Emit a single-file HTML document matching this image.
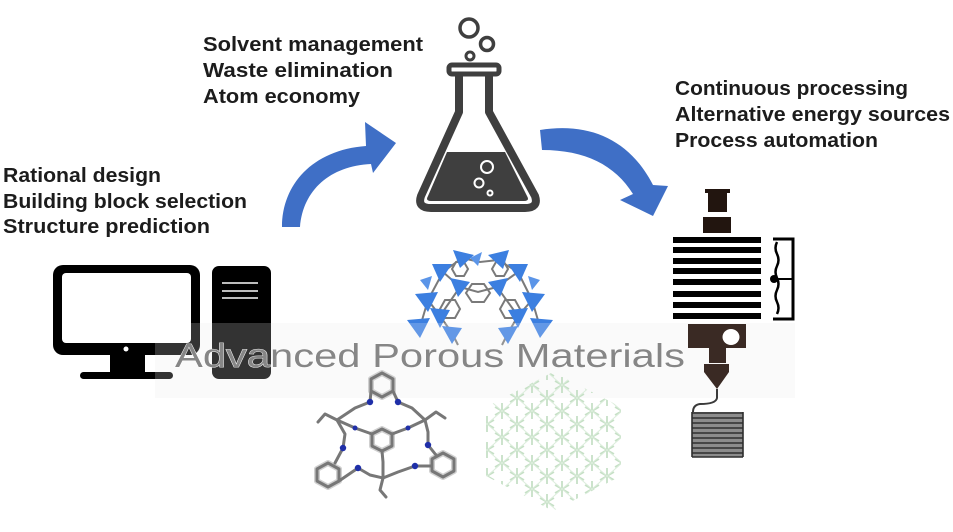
<!DOCTYPE html>
<html>
<head>
<meta charset="utf-8">
<style>
html,body{margin:0;padding:0;background:#fff;}
svg{display:block;}
.lbl{font-family:"Liberation Sans",sans-serif;font-weight:bold;font-size:20px;fill:#1c1c1c;}
</style>
</head>
<body>
<svg width="953" height="532" viewBox="0 0 953 532" xmlns="http://www.w3.org/2000/svg">
<defs>
  <pattern id="star" x="487" y="372" width="30" height="26" patternUnits="userSpaceOnUse">
    <g stroke="#c6e0c6" stroke-width="1.8" fill="none">
      <path d="M0,-8 V8 M-7,-4 L7,4 M-7,4 L7,-4"/>
      <path d="M30,-8 V8 M23,-4 L37,4 M23,4 L37,-4"/>
      <path d="M0,18 V34 M-7,22 L7,30 M-7,30 L7,22"/>
      <path d="M30,18 V34 M23,22 L37,30 M23,30 L37,22"/>
      <path d="M15,5 V21 M8,9 L22,17 M8,17 L22,9"/>
      <path d="M0,0 L15,13 L30,0 M15,13 L0,26 M15,13 L30,26" stroke="#dbeddb" stroke-width="1"/>
    </g>
  </pattern>
  <clipPath id="hex">
    <polygon points="553,372 621,407 621,476 553,511 486,476 486,407"/>
  </clipPath>
</defs>

<rect width="953" height="532" fill="#fff"/>

<!-- light band behind title -->
<rect x="155" y="323" width="640" height="75" fill="#f9f9f9"/>

<!-- Labels -->
<text class="lbl" x="203" y="51" textLength="220" lengthAdjust="spacingAndGlyphs">Solvent management</text>
<text class="lbl" x="203" y="77" textLength="190" lengthAdjust="spacingAndGlyphs">Waste elimination</text>
<text class="lbl" x="203" y="103" textLength="157" lengthAdjust="spacingAndGlyphs">Atom economy</text>

<text class="lbl" x="3" y="182" textLength="158" lengthAdjust="spacingAndGlyphs">Rational design</text>
<text class="lbl" x="3" y="208" textLength="244" lengthAdjust="spacingAndGlyphs">Building block selection</text>
<text class="lbl" x="3" y="233" textLength="207" lengthAdjust="spacingAndGlyphs">Structure prediction</text>

<text class="lbl" x="675" y="95" textLength="233" lengthAdjust="spacingAndGlyphs">Continuous processing</text>
<text class="lbl" x="675" y="121" textLength="275" lengthAdjust="spacingAndGlyphs">Alternative energy sources</text>
<text class="lbl" x="675" y="147" textLength="203" lengthAdjust="spacingAndGlyphs">Process automation</text>

<!-- Arrows -->
<path d="M282,227 C282,185 312,150 366,146 L365,122 L396,143 L373,173 L371,164 C330,166 303,190 300,227 Z" fill="#3f6fc6"/>
<path d="M540,130 C590,122 630,140 653,185 L668,186 L653,216 L620,200 L633,194 C615,165 585,150 542,150 Z" fill="#3f6fc6"/>

<!-- Flask -->
<g fill="none" stroke="#3f3f3f">
  <circle cx="469" cy="28" r="9" stroke-width="3.5"/>
  <circle cx="487" cy="44" r="6.5" stroke-width="3.5"/>
  <circle cx="470" cy="56" r="4" stroke-width="3"/>
  <rect x="449" y="65" width="50" height="9" rx="3" stroke-width="5" fill="#fff"/>
  <path d="M459,75 L459,112 L421,196 Q417,208 431,208 L525,208 Q539,208 535,196 L489,112 L489,75" stroke-width="8" stroke-linejoin="round"/>
</g>
<path d="M447,152 L505,152 L527,196 Q530,201 524,201 L431,201 Q425,201 428,196 Z" fill="#3f3f3f"/>
<g fill="none" stroke="#fff" stroke-width="2">
  <circle cx="487" cy="167" r="6"/>
  <circle cx="479" cy="183" r="4.5"/>
  <circle cx="490" cy="193" r="2.5"/>
</g>

<!-- Computer -->
<rect x="53" y="265" width="147" height="90" rx="10" fill="#000"/>
<rect x="62" y="273" width="129" height="70" rx="4" fill="#fff"/>
<circle cx="126" cy="349" r="2.5" fill="#fff"/>
<rect x="110" y="354" width="35" height="19" fill="#000"/>
<rect x="80" y="372" width="93" height="7" rx="3.5" fill="#000"/>
<rect x="212" y="266" width="59" height="113" rx="7" fill="#000"/>
<g stroke="#bdbdbd" stroke-width="2">
  <line x1="222" y1="283" x2="258" y2="283"/>
  <line x1="222" y1="291" x2="258" y2="291"/>
  <line x1="222" y1="298" x2="258" y2="298"/>
</g>

<!-- Blue MOF cluster -->
<g stroke="#7a7a7a" stroke-width="2" fill="none">
  <polyline points="443,272 462,258 480,262 498,260 518,272"/>
  <polyline points="428,300 443,272"/>
  <polyline points="532,300 518,272"/>
  <polyline points="428,300 440,316 452,333"/>
  <polyline points="532,300 518,316 508,333"/>
  <polyline points="460,287 478,292 497,287"/>
  <polyline points="443,272 460,287 440,316"/>
  <polyline points="518,272 497,287 518,316"/>
  <polygon points="472,284 484,284 490,293 484,302 472,302 466,293"/>
  <polygon points="445,300 455,300 460,309 455,318 445,318 440,309"/>
  <polygon points="505,300 515,300 520,309 515,318 505,318 500,309"/>
  <polygon points="456,262 464,262 468,269 464,276 456,276 452,269"/>
  <polygon points="496,262 504,262 508,269 504,276 496,276 492,269"/>
  <polyline points="420,327 428,300"/>
  <polyline points="540,327 532,300"/>
  <polyline points="452,333 458,345"/>
  <polyline points="508,333 502,345"/>
</g>
<g fill="#3c7fe0">
  <polygon points="453,250 474,255 460,268"/>
  <polygon points="488,255 509,250 503,269"/>
  <polygon points="432,264 452,264 440,282"/>
  <polygon points="508,264 528,264 520,282"/>
  <polygon points="450,278 470,282 458,297"/>
  <polygon points="488,282 508,278 500,297"/>
  <polygon points="415,294 438,292 428,312"/>
  <polygon points="522,292 545,294 532,312"/>
  <polygon points="430,308 450,310 440,328"/>
  <polygon points="508,310 528,308 518,328"/>
  <polygon points="407,320 430,318 420,338"/>
  <polygon points="530,318 553,320 540,338"/>
  <polygon points="442,326 462,328 452,344"/>
  <polygon points="498,328 518,326 508,344"/>
  <polygon points="470,258 482,252 478,266" fill="#5b95e8"/>
  <polygon points="420,280 432,276 428,290" fill="#5b95e8"/>
  <polygon points="528,276 540,280 532,290" fill="#5b95e8"/>
</g>

<!-- translucent overlay band -->
<rect x="155" y="323" width="640" height="75" fill="#ffffff" opacity="0.2"/>

<!-- Title -->
<text x="175" y="367" textLength="510" lengthAdjust="spacingAndGlyphs" font-family="Liberation Sans, sans-serif" font-size="33" fill="#868686" stroke="#fff" stroke-width="0.8" paint-order="stroke">Advanced Porous Materials</text>

<!-- Triangle cage molecule -->
<g fill="none" stroke-linejoin="round" stroke-linecap="round">
  <g stroke="#d0d0d0" stroke-width="6">
    <polygon points="382,373 393,379 393,391 382,397 371,391 371,379"/>
    <polygon points="328,463 339,469 339,481 328,487 317,481 317,469"/>
    <polygon points="443,453 454,459 454,471 443,477 432,471 432,459"/>
    <polygon points="382,429 392,434 392,446 382,451 372,446 372,434"/>
  </g>
  <g stroke="#777" stroke-width="3">
    <polygon points="382,373 393,379 393,391 382,397 371,391 371,379"/>
    <polygon points="328,463 339,469 339,481 328,487 317,481 317,469"/>
    <polygon points="443,453 454,459 454,471 443,477 432,471 432,459"/>
    <polygon points="382,429 392,434 392,446 382,451 372,446 372,434"/>
    <polyline points="371,391 370,402 355,408 337,420 345,434 343,448 335,463"/>
    <polyline points="393,391 398,402 412,408 425,420 428,432 428,445 436,455"/>
    <polyline points="339,481 358,468 370,475 383,478 398,472 415,466 432,466"/>
    <polyline points="337,420 355,428 372,434"/>
    <polyline points="425,420 408,428 392,434"/>
    <polyline points="383,478 383,462 382,451"/>
    <polyline points="337,420 325,414 318,422"/>
    <polyline points="425,420 436,412 445,418"/>
    <polyline points="383,478 380,490 386,497"/>
  </g>
  <g fill="#1f2fa8" stroke="none">
    <circle cx="370" cy="402" r="3.2"/>
    <circle cx="398" cy="402" r="3.2"/>
    <circle cx="343" cy="448" r="3.2"/>
    <circle cx="358" cy="468" r="3.2"/>
    <circle cx="415" cy="466" r="3.2"/>
    <circle cx="428" cy="445" r="3.2"/>
    <circle cx="355" cy="428" r="2.5"/>
    <circle cx="408" cy="428" r="2.5"/>
  </g>
</g>

<!-- Green lattice -->
<g clip-path="url(#hex)">
  <rect x="486" y="372" width="136" height="139" fill="url(#star)"/>
</g>

<!-- Printer head -->
<g fill="#22150f">
  <rect x="705" y="189" width="25" height="4"/>
  <rect x="708" y="193" width="19" height="19"/>
  <rect x="703" y="217" width="28" height="16"/>
</g>
<g fill="#000">
  <rect x="673" y="237" width="88" height="6"/>
  <rect x="673" y="247" width="88" height="6"/>
  <rect x="673" y="258" width="88" height="6"/>
  <rect x="673" y="268" width="88" height="6"/>
  <rect x="673" y="279" width="88" height="6"/>
  <rect x="673" y="291" width="88" height="6"/>
  <rect x="673" y="302" width="88" height="6"/>
  <rect x="673" y="313" width="88" height="6"/>
</g>
<g fill="none" stroke="#000" stroke-width="3">
  <polyline points="773,239 793,239 793,319 773,319"/>
  <path d="M777,242 q-3,6 0,12 q3,6 0,12 q-3,6 0,12 q3,6 0,12 q-3,6 0,12 q3,6 0,12" stroke-width="2.5"/>
  <line x1="774" y1="279" x2="793" y2="279" stroke-width="2"/>
</g>
<circle cx="774" cy="279" r="4" fill="#000"/>
<rect x="688" y="324" width="58" height="24" fill="#3a2a24"/>
<ellipse cx="731" cy="337" rx="8.5" ry="8" fill="#fff"/>
<rect x="709" y="348" width="17" height="15" fill="#3a2a24"/>
<polygon points="704,364 729,364 729,372 717,389 704,372" fill="#3a2a24"/>
<path d="M717,389 L717,398 Q716,404 700,404 Q693,405 693,412" fill="none" stroke="#3a3a3a" stroke-width="2"/>
<rect x="692" y="412" width="51" height="45" fill="#8c8c8c"/>
<g stroke="#2e2e2e" stroke-width="1.6">
  <line x1="692" y1="413" x2="743" y2="413"/>
  <line x1="692" y1="418" x2="743" y2="418"/>
  <line x1="692" y1="423" x2="743" y2="423"/>
  <line x1="692" y1="428" x2="743" y2="428"/>
  <line x1="692" y1="433" x2="743" y2="433"/>
  <line x1="692" y1="438" x2="743" y2="438"/>
  <line x1="692" y1="443" x2="743" y2="443"/>
  <line x1="692" y1="448" x2="743" y2="448"/>
  <line x1="692" y1="453" x2="743" y2="453"/>
  <line x1="692" y1="457" x2="743" y2="457"/>
  <line x1="692" y1="412" x2="692" y2="457"/>
  <line x1="743" y1="412" x2="743" y2="457"/>
</g>
</svg>
</body>
</html>
